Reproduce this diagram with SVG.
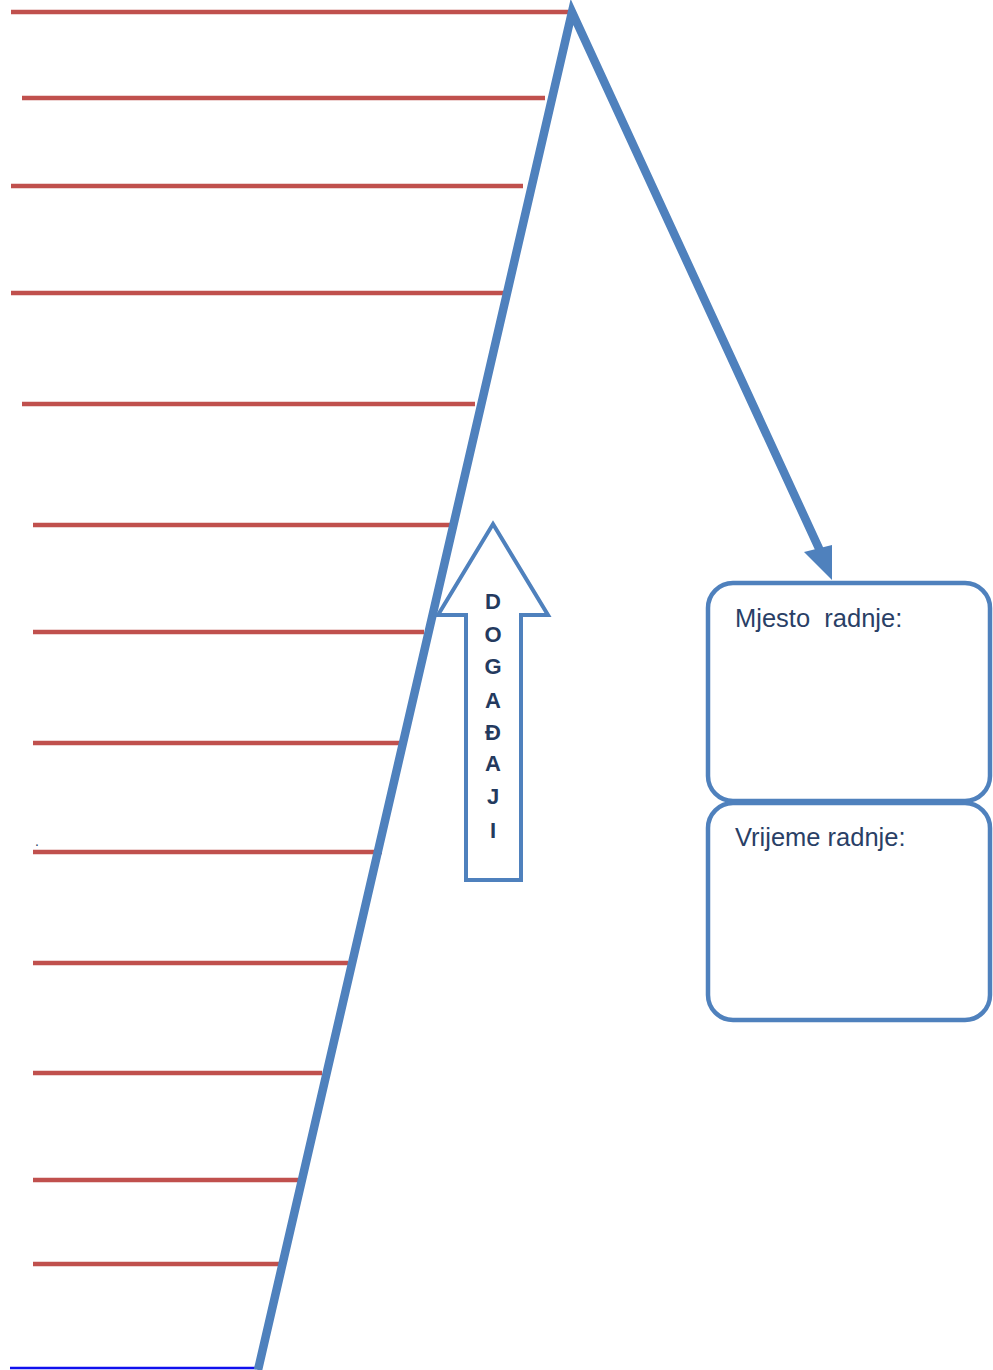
<svg xmlns="http://www.w3.org/2000/svg" width="993" height="1370" viewBox="0 0 993 1370">
<style>
.red{stroke:#c0504d;stroke-width:4.5;fill:none}
.blue{stroke:#4f81bd;fill:none;stroke-linejoin:miter}
.lbl{font-family:"Liberation Sans",Arial,sans-serif;font-size:25.5px;fill:#2a3f66;white-space:pre}
.v{font-family:"Liberation Sans",Arial,sans-serif;font-size:22px;font-weight:bold;fill:#243a5e;text-anchor:middle}
</style>
<rect width="993" height="1370" fill="#fff"/>
<g id="lines">
<line class="red" x1="11" y1="12" x2="570" y2="12"/>
<line class="red" x1="22" y1="98" x2="545" y2="98"/>
<line class="red" x1="11" y1="186" x2="523" y2="186"/>
<line class="red" x1="11" y1="293" x2="508" y2="293"/>
<line class="red" x1="22" y1="404" x2="475" y2="404"/>
<line class="red" x1="33" y1="525" x2="450" y2="525"/>
<line class="red" x1="33" y1="632" x2="424" y2="632"/>
<line class="red" x1="33" y1="743" x2="404" y2="743"/>
<line class="red" x1="33" y1="852" x2="382" y2="852"/>
<line class="red" x1="33" y1="963" x2="348" y2="963"/>
<line class="red" x1="33" y1="1073" x2="322" y2="1073"/>
<line class="red" x1="33" y1="1180" x2="298" y2="1180"/>
<line class="red" x1="33" y1="1264" x2="281" y2="1264"/>
<line x1="10" y1="1368" x2="256" y2="1368" stroke="#1010ee" stroke-width="2.5"/>
<text x="35" y="846" style="font-family:'Liberation Sans',Arial,sans-serif;font-size:14px;fill:#2a3f66">.</text>
</g>
<g id="connectors">
<polyline class="blue" stroke-width="8.5" points="258,1370 572,12 822,555"/>
<polygon points="804,552 832,545 832,580" fill="#4f81bd"/>
</g>
<g id="events">
<polygon class="blue" stroke-width="4" points="493,524 548,615 521,615 521,880 466,880 466,615 438,615"/>
<text class="v" x="493" y="609">D</text>
<text class="v" x="493" y="642">O</text>
<text class="v" x="493" y="674">G</text>
<text class="v" x="493" y="708">A</text>
<text class="v" x="493" y="740">Đ</text>
<text class="v" x="493" y="771">A</text>
<text class="v" x="493" y="804">J</text>
<text class="v" x="493" y="838">I</text>
</g>
<g id="place">
<rect class="blue" stroke-width="4.5" x="708" y="583" width="282" height="218" rx="25" ry="25"/>
<text class="lbl" x="735" y="627" xml:space="preserve">Mjesto  radnje:</text>
</g>
<g id="time">
<rect class="blue" stroke-width="4.5" x="708" y="803" width="282" height="217" rx="25" ry="25"/>
<text class="lbl" x="735" y="846">Vrijeme radnje:</text>
</g>
</svg>
